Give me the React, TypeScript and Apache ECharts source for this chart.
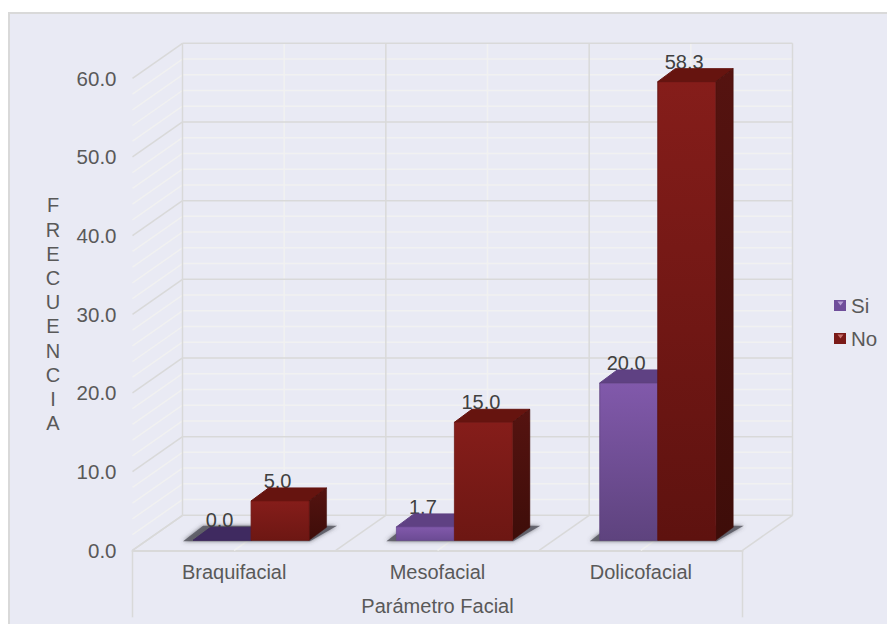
import React, { useEffect, useRef } from "react";
import * as echarts from "echarts";

const categories = ["Braquifacial", "Mesofacial", "Dolicofacial"];
const siValues = [0.0, 1.7, 20.0];
const noValues = [5.0, 15.0, 58.3];
const majorTicks = [0, 10, 20, 30, 40, 50, 60];
const minorTicks = [2, 4, 6, 8, 12, 14, 16, 18, 22, 24, 26, 28, 32, 34, 36, 38, 42, 44, 46, 48, 52, 54, 56, 58];
const bandEdges = [0, 1, 2, 3];
const bandMiddles = [0.5, 1.5, 2.5];

const FONT = "Liberation Sans, Arial, sans-serif";
const PANEL = "#E9EAF4";
const MAJOR_LINE = "#D9D9D9";
const MINOR_LINE = "#F1F1F1";

// Depth of the floor and of the bar boxes, as screen offsets.
const WALL_DX = 50;
const WALL_DY = -35;
const BAR_DX = 17.5;
const BAR_DY = -13;
const BAR_SHIFT_X = 16.9;
const BAR_SHIFT_Y = -10;
const BAR_WIDTH = 58;
const STEM_LENGTH = 67;

const lineEl = (x1: number, y1: number, x2: number, y2: number, stroke: string, w: number) => ({
  type: "line",
  shape: { x1, y1, x2, y2 },
  style: { stroke, lineWidth: w, fill: "none" },
  silent: true,
});

const polyEl = (points: number[][], style: any) => ({
  type: "polygon",
  shape: { points },
  style,
  silent: true,
});

const vGrad = (top: string, bottom: string) =>
  new echarts.graphic.LinearGradient(0, 0, 0, 1, [
    { offset: 0, color: top },
    { offset: 1, color: bottom },
  ]);

// Horizontal wall lines with their return along the left side wall.
function renderRuling(color: string, width: number) {
  return (params: any, api: any) => {
    const sys = params.coordSys;
    const y = api.coord([0, api.value(0)])[1];
    return {
      type: "group",
      children: [
        lineEl(sys.x, y, sys.x + WALL_DX, y + WALL_DY, color, width),
        lineEl(sys.x + WALL_DX, y + WALL_DY, sys.x + sys.width + WALL_DX, y + WALL_DY, color, width),
      ],
    };
  };
}

// Vertical wall lines and the floor lines running towards the viewer.
function renderColumn(color: string, width: number, withStem: boolean) {
  return (params: any, api: any) => {
    const sys = params.coordSys;
    const pos = api.value(0);
    const x = sys.x + (sys.width / categories.length) * pos;
    const bottom = sys.y + sys.height;
    const children: any[] = [
      lineEl(x + WALL_DX, sys.y + WALL_DY, x + WALL_DX, bottom + WALL_DY, color, width),
      lineEl(x, bottom, x + WALL_DX, bottom + WALL_DY, color, width),
    ];
    if (withStem && (pos === 0 || pos === categories.length)) {
      children.push(lineEl(x, bottom, x, bottom + STEM_LENGTH, color, width));
    }
    return { type: "group", children };
  };
}

// Soft shadow on the floor beneath each pair of bars.
function renderShadow(params: any, api: any) {
  const idx = api.value(0);
  const c = api.coord([idx, 0]);
  const left = c[0] + BAR_SHIFT_X - BAR_WIDTH;
  const right = c[0] + BAR_SHIFT_X + BAR_WIDTH;
  const base = c[1] + BAR_SHIFT_Y;
  return polyEl(
    [
      [left - 10, base + 1],
      [right + 1, base + 1],
      [right + 28, base - 14.5],
      [left + 10, base - 14.5],
    ],
    { fill: "rgba(88,88,98,0.85)", shadowBlur: 4, shadowColor: "rgba(70,70,80,0.8)" }
  );
}

type BoxColors = { top: string; side: string; sideLow: string; front: string; frontLow: string; frontShort: string };

const siColors: BoxColors = {
  top: "#5F4183",
  side: "#4A3168",
  sideLow: "#3D2958",
  front: "#8159AB",
  frontLow: "#5E437E",
  frontShort: "#6C4B94",
};
const noColors: BoxColors = {
  top: "#66140F",
  side: "#551310",
  sideLow: "#3E0D09",
  front: "#851D1A",
  frontLow: "#5E120F",
  frontShort: "#6D1713",
};

// One box: value label, then top, side and front faces painted over it.
function renderBox(side: -1 | 0, colors: BoxColors) {
  return (_params: any, api: any) => {
    const idx = api.value(0);
    const val = api.value(1);
    const base = api.coord([idx, 0]);
    const head = api.coord([idx, val]);
    const x0 = base[0] + BAR_SHIFT_X + side * BAR_WIDTH;
    const x1 = x0 + BAR_WIDTH;
    const yb = base[1] + BAR_SHIFT_Y;
    const yt = head[1] + BAR_SHIFT_Y;
    const faces: any[] = [
      {
        type: "text",
        silent: true,
        style: {
          x: (x0 + x1) / 2 - 2.5,
          y: yt + BAR_DY - 7,
          text: val.toFixed(1),
          fill: "#404040",
          font: `20px ${FONT}`,
          align: "center",
          verticalAlign: "middle",
        },
      },
      polyEl(
        [
          [x0, yt],
          [x1, yt],
          [x1 + BAR_DX, yt + BAR_DY],
          [x0 + BAR_DX, yt + BAR_DY],
        ],
        { fill: val === 0 ? "#3F2A60" : colors.top, stroke: val === 0 ? "#3F2A60" : colors.top, lineWidth: 1, lineJoin: "round" }
      ),
    ];
    if (val > 0) {
      faces.push(
        polyEl(
          [
            [x1, yt],
            [x1 + BAR_DX, yt + BAR_DY],
            [x1 + BAR_DX, yb + BAR_DY],
            [x1, yb],
          ],
          { fill: vGrad(colors.side, colors.sideLow), stroke: colors.sideLow, lineWidth: 0.5 }
        ),
        polyEl(
          [
            [x0, yt],
            [x1, yt],
            [x1, yb],
            [x0, yb],
          ],
          {
            fill: vGrad(colors.front, val > 18 ? colors.frontLow : colors.frontShort),
            stroke: val > 18 ? colors.frontLow : colors.frontShort,
            lineWidth: 0.8,
            lineJoin: "round",
          }
        )
      );
    }
    return { type: "group", children: faces };
  };
}

const custom = (name: string, data: any[], renderItem: any, extra: any = {}) => ({
  type: "custom",
  name,
  data,
  renderItem,
  silent: true,
  clip: false,
  ...extra,
});

export default function App() {
  const ref = useRef<HTMLDivElement>(null);

  useEffect(() => {
    const chart = echarts.init(ref.current as HTMLDivElement, undefined, { renderer: "svg" });
    chart.setOption({
      animation: false,
      backgroundColor: "#FFFFFF",
      textStyle: { fontFamily: FONT },
      grid: { left: 132.5, top: 78.3, width: 610, height: 472 },
      graphic: [
        {
          type: "rect",
          z: -10,
          shape: { x: 9, y: 13, width: 890, height: 620 },
          style: { fill: PANEL, stroke: "#D9D9D9", lineWidth: 2 },
          silent: true,
        },
        {
          type: "polygon",
          z: 100,
          shape: { points: [[837.5, 301.5], [843.5, 301.5], [840.5, 305.5]] },
          style: { fill: "#B9A2D6" },
          silent: true,
        },
        {
          type: "polygon",
          z: 100,
          shape: { points: [[837.5, 334.5], [843.5, 334.5], [840.5, 338.5]] },
          style: { fill: "#C8716C" },
          silent: true,
        },
      ],
      legend: {
        orient: "vertical",
        left: 829,
        top: 290,
        itemWidth: 12,
        itemHeight: 11,
        itemGap: 12,
        selectedMode: false,
        data: [
          { name: "Si", icon: "rect" },
          { name: "No", icon: "rect" },
        ],
        textStyle: { color: "#595959", fontSize: 20.5, fontFamily: FONT },
      },
      xAxis: {
        type: "category",
        data: categories,
        name: "Parámetro Facial",
        nameLocation: "middle",
        nameGap: 46,
        nameTextStyle: { color: "#595959", fontSize: 20, fontFamily: FONT },
        axisLine: { show: true, lineStyle: { color: MAJOR_LINE, width: 2 } },
        axisTick: { show: false },
        axisLabel: { color: "#595959", fontSize: 20, fontFamily: FONT, margin: 12 },
        splitLine: { show: false },
      },
      yAxis: {
        type: "value",
        min: 0,
        max: 60,
        interval: 10,
        name: "F\nR\nE\nC\nU\nE\nN\nC\nI\nA",
        nameLocation: "middle",
        nameRotate: 0,
        nameGap: 79.5,
        nameTextStyle: { color: "#595959", fontSize: 20, lineHeight: 24.2, fontFamily: FONT, align: "center" },
        axisLine: { show: false },
        axisTick: { show: false },
        splitLine: { show: false },
        axisLabel: {
          color: "#595959",
          fontSize: 20.5,
          fontFamily: FONT,
          margin: 16,
          padding: [0, 0, 2, 0],
          formatter: (v: number) => v.toFixed(1),
        },
      },
      series: [
        custom("minorRuling", minorTicks.map((v) => [v]), renderRuling(MINOR_LINE, 1.5), { z: 1 }),
        custom("minorColumns", bandMiddles.map((v) => [v]), renderColumn(MINOR_LINE, 1.5, false), { z: 1 }),
        custom("majorRuling", majorTicks.map((v) => [v]), renderRuling(MAJOR_LINE, 1.5), { z: 2 }),
        custom("majorColumns", bandEdges.map((v) => [v]), renderColumn(MAJOR_LINE, 1.5, true), { z: 2 }),
        custom("floorShadow", categories.map((_, i) => [i]), renderShadow, { z: 3 }),
        custom("Si", categories.map((_, i) => [i, siValues[i]]), renderBox(-1, siColors), {
          z: 4,
          itemStyle: { color: "#6F4E9A" },
        }),
        custom("No", categories.map((_, i) => [i, noValues[i]]), renderBox(0, noColors), {
          z: 5,
          itemStyle: { color: "#7A1A17" },
        }),
      ],
    });
    return () => chart.dispose();
  }, []);

  return <div ref={ref} style={{ position: "absolute", left: 0, top: 0, width: 887, height: 624 }} />;
}
